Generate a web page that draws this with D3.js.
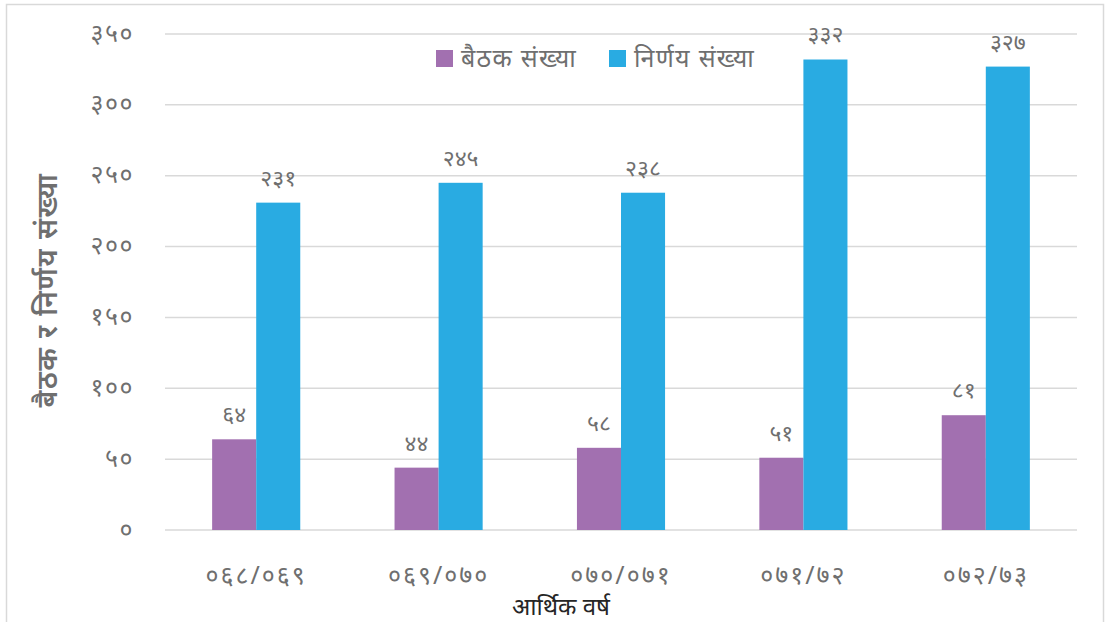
<!DOCTYPE html>
<html>
<head>
<meta charset="utf-8">
<script src="https://cdn.jsdelivr.net/npm/d3@7"></script>
<style>
  body { margin: 0; background: #fff; }
  svg { font-family: "Noto Sans", "DejaVu Sans", sans-serif; }
</style>
</head>
<body>
<div id="chart"></div>
<script>
  // data
  const years = ["०६८/०६९", "०६९/०७०", "०७०/०७१", "०७१/७२", "०७२/७३"];
  const seriesNames = ["बैठक संख्या", "निर्णय संख्या"];
  const meetings = [64, 44, 58, 51, 81];
  const decisions = [231, 245, 238, 332, 327];
  const yTicks = [0, 50, 100, 150, 200, 250, 300, 350];
  const colors = ["#a270b0", "#29abe2"];

  const W = 1109, H = 622;
  const margin = {top: 34, right: 32, bottom: 92, left: 165};
  const w = W - margin.left - margin.right,
        h = H - margin.top - margin.bottom;

  const nep = s => String(s).replace(/[0-9]/g, c => "०१२३४५६७८९"[+c]);

  const svg = d3.select("#chart").append("svg")
    .attr("width", W).attr("height", H);

  // outer border
  svg.append("rect")
    .attr("x", 6.5).attr("y", 4.5)
    .attr("width", 1097).attr("height", 630)
    .attr("fill", "none").attr("stroke", "#d9d9d9").attr("stroke-width", 1.5);

  const g = svg.append("g").attr("transform", `translate(${margin.left},${margin.top})`);

  const y = d3.scaleLinear().domain([0, 350]).range([h, 0]);
  const x0 = d3.scaleBand().domain(years).range([0, w]).padding(0);
  const x1 = d3.scaleBand().domain(seriesNames).range([0, x0.bandwidth()])
    .paddingInner(0).paddingOuter(1.07);

  // gridlines
  g.selectAll(".grid").data(yTicks).join("line")
    .attr("x1", 0).attr("x2", w)
    .attr("y1", d => y(d)).attr("y2", d => y(d))
    .attr("stroke", "#d9d9d9").attr("stroke-width", 1.5);

  // y tick labels
  g.selectAll(".ytick").data(yTicks).join("text")
    .attr("x", -31).attr("y", d => y(d))
    .attr("dy", "0.3em")
    .attr("text-anchor", "end")
    .attr("fill", "#6f6f6f")
    .style("font-size", "25px")
    .style("letter-spacing", "1.5px")
    .text(d => nep(d));

  const rows = years.map((yr, i) => ({year: yr, vals: [meetings[i], decisions[i]]}));

  const grp = g.selectAll(".grp").data(rows).join("g")
    .attr("transform", d => `translate(${x0(d.year)},0)`);

  grp.selectAll("rect").data(d => d.vals.map((v, k) => ({k, v}))).join("rect")
    .attr("x", d => x1(seriesNames[d.k]))
    .attr("width", x1.bandwidth())
    .attr("y", d => y(d.v))
    .attr("height", d => h - y(d.v))
    .attr("fill", d => colors[d.k]);

  grp.selectAll("text").data(d => d.vals.map((v, k) => ({k, v}))).join("text")
    .attr("x", d => x1(seriesNames[d.k]) + x1.bandwidth() / 2)
    .attr("y", d => y(d.v) - 24)
    .attr("dy", "0.3em")
    .attr("text-anchor", "middle")
    .attr("fill", "#6f6f6f")
    .style("font-size", "23px")
    .text(d => nep(d.v));

  // x labels
  g.selectAll(".xlab").data(years).join("text")
    .attr("x", d => x0(d) + x0.bandwidth() / 2)
    .attr("y", h + 46)
    .attr("dy", "0.3em")
    .attr("text-anchor", "middle")
    .attr("fill", "#6f6f6f")
    .style("font-size", "25px")
    .style("letter-spacing", "2px")
    .text(d => d);

  // axis titles
  svg.append("text")
    .attr("x", 561).attr("y", 607)
    .attr("dy", "0.35em")
    .attr("text-anchor", "middle")
    .attr("fill", "#262626")
    .style("font-size", "24px")
    .text("आर्थिक वर्ष");

  svg.append("text")
    .attr("transform", "translate(47,290) rotate(-90)")
    .attr("dy", "0.35em")
    .attr("text-anchor", "middle")
    .attr("fill", "#6f6f6f")
    .style("font-size", "28px")
    .style("font-weight", "600")
    .style("letter-spacing", "1.5px")
    .text("बैठक र निर्णय संख्या");

  // legend
  const legX = [436, 609];
  const leg = svg.selectAll(".leg").data(seriesNames).join("g")
    .attr("transform", (d, i) => `translate(${legX[i]},50)`);
  leg.append("rect").attr("width", 17).attr("height", 17)
    .attr("fill", (d, i) => colors[i]);
  leg.append("text").attr("x", 25).attr("y", 8.5).attr("dy", "0.35em")
    .attr("fill", "#6f6f6f").style("font-size", "25px")
    .style("letter-spacing", "1.3px")
    .text(d => d);
</script>
</body>
</html>
